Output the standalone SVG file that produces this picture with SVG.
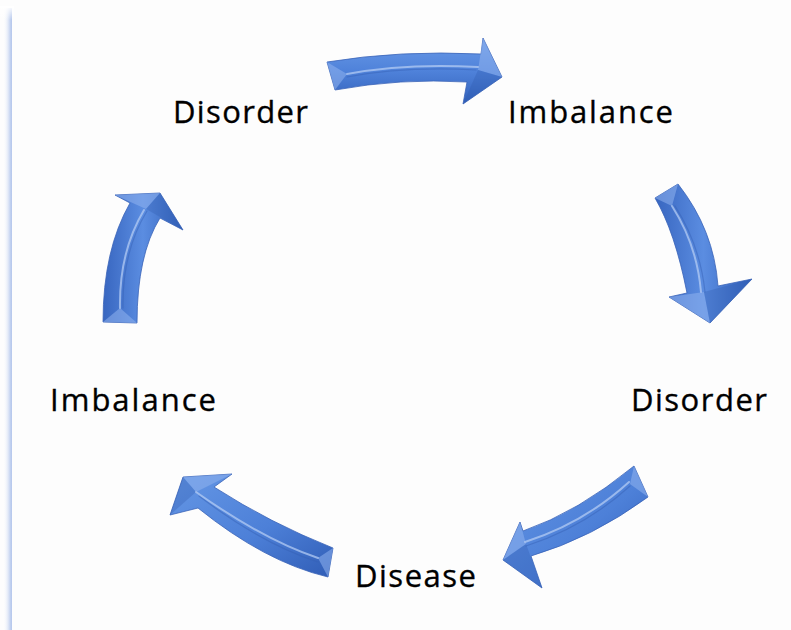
<svg xmlns="http://www.w3.org/2000/svg" width="791" height="630" viewBox="0 0 791 630">
  <defs>
    <style>
      .label { font-family: "Open Sans", "Liberation Sans", sans-serif; font-size: 31px; fill: #000000; stroke: #000000; stroke-width: 0.35; }
      .arrow { stroke: #3a63b8; stroke-width: 0.8; stroke-linejoin: round; }
      .rail { fill: none; stroke: #b3cbf3; stroke-width: 2; stroke-linecap: round; opacity: 0.75; }
      .groove { fill: none; stroke: #3560b4; stroke-width: 1.2; stroke-linecap: round; opacity: 0.45; }
      .facet-light { fill: #8fb3ef; opacity: 0.55; }
      .facet-dark { fill: #2f59ad; opacity: 0.3; }
    </style>
    <linearGradient id="gV" x1="0" y1="0" x2="0" y2="1">
      <stop offset="0" stop-color="#6a9be8"/>
      <stop offset="0.5" stop-color="#4f82da"/>
      <stop offset="1" stop-color="#3160ba"/>
    </linearGradient>
    <linearGradient id="gH" x1="0" y1="0" x2="1" y2="0">
      <stop offset="0" stop-color="#3866c0"/>
      <stop offset="0.5" stop-color="#5b8de1"/>
      <stop offset="1" stop-color="#3261bb"/>
    </linearGradient>
    <linearGradient id="gD" x1="0" y1="0" x2="1" y2="1">
      <stop offset="0" stop-color="#6597e5"/>
      <stop offset="0.55" stop-color="#4d80d8"/>
      <stop offset="1" stop-color="#305db6"/>
    </linearGradient>
    <linearGradient id="edge" x1="0" y1="0" x2="1" y2="0">
      <stop offset="0" stop-color="#ffffff" stop-opacity="0"/>
      <stop offset="0.8" stop-color="#c3d2f0"/>
      <stop offset="1" stop-color="#b4c6ec"/>
    </linearGradient>
    <linearGradient id="edgeTop" x1="0" y1="0" x2="0" y2="1">
      <stop offset="0" stop-color="#ffffff" stop-opacity="1"/>
      <stop offset="1" stop-color="#ffffff" stop-opacity="0"/>
    </linearGradient>
  </defs>

  <!-- page -->
  <rect x="0" y="0" width="791" height="630" fill="#fdfdfd"/>
  <rect x="3" y="8" width="9" height="622" fill="url(#edge)"/>
  <rect x="0" y="6" width="14" height="14" fill="url(#edgeTop)"/>

  <!-- cycle arrows -->
  <g id="connectors">
    <!-- top: Disorder -> Imbalance -->
    <g id="arrow-top">
      <path class="arrow" fill="url(#gV)" d="M327,62 Q400,50 481,54 L483,38 L502,77 L463,104 L467,82 Q400,78 335,90 Z"/>
      <polygon class="facet-light" points="327,62 335,90 347,74"/>
      <polygon class="facet-light" points="483,38 502,77 478,70"/>
      <polygon class="facet-dark" points="502,77 463,104 478,70"/>
      <path class="groove" d="M347,77 Q405,66 476,70"/>
      <path class="rail" d="M347,74 Q405,63 478,67"/>
    </g>
    <!-- right: Imbalance -> Disorder -->
    <g id="arrow-right">
      <path class="arrow" fill="url(#gH)" d="M678,184 Q714,230 718,286 L752,279 L710,323 L669,297 L687,293 Q675,232 655,198 Z"/>
      <polygon class="facet-light" points="655,198 678,184 672,206"/>
      <polygon class="facet-light" points="669,297 710,323 704,292"/>
      <polygon class="facet-dark" points="752,279 710,323 704,292"/>
      <path class="groove" d="M675,206 Q700,245 705,292"/>
      <path class="rail" d="M672,206 Q697,245 701,292"/>
    </g>
    <!-- lower right: Disorder -> Disease -->
    <g id="arrow-lower-right">
      <path class="arrow" fill="url(#gD)" d="M634,466 Q578,512 523,531 L520,522 L503,560 L542,588 L531,556 Q592,538 648,497 Z"/>
      <polygon class="facet-light" points="634,466 648,497 630,484"/>
      <polygon class="facet-light" points="520,522 503,560 526,544"/>
      <polygon class="facet-dark" points="503,560 542,588 526,544"/>
      <path class="groove" d="M630,486 Q585,527 526,546"/>
      <path class="rail" d="M629,482 Q584,523 525,542"/>
    </g>
    <!-- lower left: Disease -> Imbalance -->
    <g id="arrow-lower-left">
      <path class="arrow" fill="url(#gD)" d="M333,548 Q270,523 214,487 L232,474 L183,477 L170,515 L198,508 Q265,562 328,577 Z"/>
      <polygon class="facet-light" points="333,548 328,577 318,558"/>
      <polygon class="facet-light" points="232,474 183,477 196,492"/>
      <polygon class="facet-dark" points="183,477 170,515 196,492"/>
      <path class="groove" d="M318,562 Q262,544 199,496"/>
      <path class="rail" d="M318,558 Q264,540 196,492"/>
    </g>
    <!-- left: Imbalance -> Disorder -->
    <g id="arrow-left">
      <path class="arrow" fill="url(#gH)" d="M103,322 Q103,250 130,203 L115,195 L160,193 L183,230 L160,218 Q137,255 137,323 Z"/>
      <polygon class="facet-light" points="103,322 137,323 120,308"/>
      <polygon class="facet-light" points="115,195 160,193 146,209"/>
      <polygon class="facet-dark" points="160,193 183,230 146,209"/>
      <path class="groove" d="M123,308 Q122,252 147,211"/>
      <path class="rail" d="M120,308 Q119,252 144,210"/>
    </g>
  </g>

  <!-- cycle stages -->
  <g id="node-disorder-top">
    <text class="label" x="173" y="123" textLength="135" lengthAdjust="spacing">Disorder</text>
  </g>
  <g id="node-imbalance-top">
    <text class="label" x="508" y="123" textLength="165" lengthAdjust="spacing">Imbalance</text>
  </g>
  <g id="node-disorder-right">
    <text class="label" x="631" y="411" textLength="136" lengthAdjust="spacing">Disorder</text>
  </g>
  <g id="node-disease">
    <text class="label" x="355" y="587" textLength="121" lengthAdjust="spacing">Disease</text>
  </g>
  <g id="node-imbalance-left">
    <text class="label" x="50" y="411" textLength="166" lengthAdjust="spacing">Imbalance</text>
  </g>
</svg>
